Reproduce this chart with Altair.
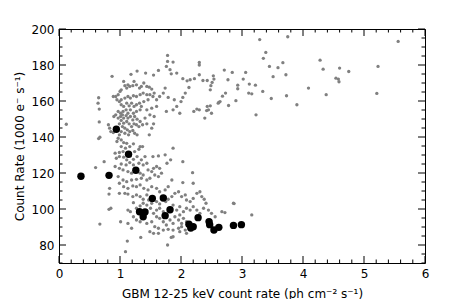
import altair as alt
import pandas as pd

# Black (highlighted) points
bx = [0.36, 0.82, 0.94, 1.14, 1.26, 1.53, 1.71, 1.32, 1.41, 1.38, 1.74, 1.82, 2.28, 2.13, 2.16, 2.20,
      2.46, 2.47, 2.54, 2.62, 2.86, 2.99]
by = [118.2, 118.7, 144.3, 130.4, 121.5, 105.9, 106.1, 98.5, 98.3, 95.7, 96.3, 99.6, 95.2, 91.5, 89.4, 90.2,
      93.0, 91.3, 88.3, 89.8, 90.9, 91.3]

# Gray points (x, y pairs)
gray_pts = [
    (0.12, 147.1), (3.29, 194.1), (3.75, 195.7), (5.56, 193.1), (3.39, 187.0), (3.35, 183.7), (3.45, 179.2),
    (3.51, 173.5), (3.59, 178.5), (3.67, 181.3), (3.72, 174.6), (4.28, 182.7), (4.33, 177.7), (4.60, 178.3),
    (4.75, 176.4), (4.54, 172.7), (4.58, 172.2), (4.59, 170.7), (5.23, 179.2), (5.21, 164.2), (4.09, 167.2),
    (4.38, 163.5), (3.90, 157.9), (3.73, 162.9), (3.48, 161.4), (3.34, 165.3), (3.23, 152.3), (3.22, 168.8),
    (3.12, 169.4), (3.11, 164.4), (3.16, 164.0), (3.06, 175.9), (3.02, 172.2), (2.93, 168.8), (2.90, 160.2),
    (2.93, 166.8), (2.84, 175.9), (2.77, 171.8), (2.71, 177.2), (2.78, 157.5), (2.73, 164.4), (2.64, 159.7),
    (2.68, 162.7), (2.53, 174.0), (2.54, 172.2), (2.51, 170.3), (2.49, 168.5), (2.48, 166.2), (2.43, 171.4),
    (2.36, 171.4), (2.30, 174.6), (2.30, 180.0), (2.30, 181.4), (2.22, 172.4), (2.15, 171.8), (2.13, 167.5),
    (2.10, 171.2), (2.03, 172.4), (1.93, 175.5), (1.87, 181.6), (1.78, 182.0), (1.78, 185.3), (1.76, 179.2),
    (1.82, 177.4), (1.84, 175.1), (1.63, 177.0), (1.55, 174.4), (1.42, 175.5), (1.28, 176.6), (1.18, 174.8),
    (0.87, 173.7), (2.39, 150.5), (2.30, 155.1), (2.21, 154.2), (2.26, 155.5), (2.43, 157.0), (2.45, 155.1),
    (2.48, 157.3), (2.42, 154.7), (2.50, 153.2), (2.61, 158.8), (2.62, 159.2), (1.98, 153.2), (2.00, 159.7),
    (2.03, 162.0), (2.07, 164.4), (1.89, 160.7), (1.87, 155.1), (1.93, 157.0), (1.76, 154.2), (1.79, 162.0),
    (1.71, 164.4), (1.74, 167.2), (1.65, 162.5), (1.60, 160.7), (1.56, 151.4), (1.52, 156.0), (1.60, 157.0),
    (1.46, 160.7), (1.49, 152.3), (1.41, 150.5), (1.44, 155.1), (1.44, 147.3),
    (0.65, 161.8), (0.64, 158.8), (0.66, 155.5), (0.66, 148.4), (0.65, 139.1), (0.67, 139.9),
    (0.81, 146.8), (0.83, 144.9), (0.89, 142.5), (0.85, 143.0), (0.90, 151.4), (0.93, 152.3), (0.89, 162.5),
    (0.93, 162.5), (0.97, 163.5), (1.00, 165.3), (1.02, 166.2), (1.06, 170.9), (1.08, 168.5), (1.11, 167.2),
    (1.13, 169.0), (1.16, 168.1), (1.21, 168.5), (1.23, 170.9), (1.27, 169.0), (1.32, 167.2), (1.35, 168.1),
    (1.39, 170.0), (1.44, 168.1), (1.48, 167.7), (1.52, 166.6), (1.56, 164.4), (1.54, 162.5), (1.49, 163.5),
    (1.44, 163.5), (1.38, 164.4), (1.33, 163.5), (1.27, 162.5), (1.22, 162.9), (1.17, 161.6), (1.13, 162.5),
    (1.08, 161.6), (1.02, 160.7), (0.99, 159.7), (0.95, 160.7), (1.02, 157.9), (1.06, 157.0), (1.11, 158.8),
    (1.15, 157.3), (1.19, 158.8), (1.23, 157.0), (1.27, 157.9), (1.32, 158.8), (1.35, 157.0), (1.39, 159.7),
    (1.33, 155.1), (1.27, 154.2), (1.22, 153.2), (1.17, 155.1), (1.13, 153.2), (1.10, 155.1), (1.05, 154.2),
    (1.01, 153.2), (0.97, 154.2), (0.97, 150.5), (1.01, 151.4), (1.04, 152.3), (1.06, 150.5), (1.10, 151.9),
    (1.13, 150.5), (1.17, 151.4), (1.21, 149.5), (1.24, 151.4), (1.28, 149.9), (1.33, 148.6), (1.37, 146.8),
    (1.31, 145.8), (1.27, 146.8), (1.23, 147.3), (1.19, 145.8), (1.15, 147.3), (1.11, 148.6), (1.06, 147.7),
    (1.02, 149.2), (0.99, 147.3), (1.04, 145.8), (1.08, 144.9), (1.12, 144.0), (1.16, 143.0), (1.21, 143.6),
    (1.24, 142.1), (1.28, 141.2), (1.14, 141.2), (1.08, 142.1), (1.02, 143.0), (0.99, 141.2), (0.97, 139.3),
    (1.02, 138.4), (0.95, 137.5), (1.06, 136.9), (1.11, 136.5), (1.02, 134.7), (1.09, 133.8), (1.16, 134.7),
    (1.22, 136.2), (1.33, 134.7), (1.31, 133.2), (1.24, 131.9), (1.05, 131.9), (0.99, 131.4), (0.92, 131.0),
    (0.94, 128.2), (0.99, 129.1), (1.06, 128.8), (1.11, 127.3), (1.17, 129.5), (1.22, 127.6), (1.28, 129.1),
    (1.35, 127.3), (1.41, 129.1), (1.44, 125.4), (1.38, 124.5), (1.31, 125.4), (1.22, 124.5), (1.16, 125.8),
    (1.10, 124.5), (1.02, 125.0), (0.99, 122.6), (1.05, 121.7), (1.13, 120.8), (1.19, 119.9), (1.33, 119.9),
    (1.38, 118.9), (1.46, 121.7), (1.52, 120.8), (1.55, 122.6), (1.60, 123.6), (1.65, 122.6), (1.68, 119.9),
    (1.63, 118.0), (1.57, 118.9), (1.49, 117.1), (1.44, 116.1), (1.35, 117.1), (1.27, 116.5), (1.19, 116.1),
    (1.11, 115.2), (1.05, 116.1), (0.99, 114.3), (1.06, 112.4), (1.13, 111.5), (1.21, 112.8), (1.27, 112.4),
    (1.33, 113.4), (1.39, 111.5), (1.46, 110.6), (1.52, 112.4), (1.60, 111.5), (1.65, 109.6), (1.74, 110.6),
    (1.79, 112.4), (1.85, 116.1), (1.87, 133.8), (1.83, 127.3), (1.77, 125.4), (2.03, 126.3), (2.03, 114.7),
    (2.19, 120.2), (2.20, 114.3), (0.99, 108.7), (1.08, 108.7), (1.13, 108.3), (1.21, 106.9), (1.27, 107.8),
    (1.33, 106.9), (1.38, 105.4), (1.44, 107.8), (1.47, 105.0), (1.52, 103.2), (1.60, 104.1), (1.65, 102.8),
    (1.75, 104.1), (1.79, 105.4), (1.85, 106.9), (1.90, 108.7), (1.96, 109.6), (2.01, 106.9), (2.07, 107.8),
    (2.09, 105.0), (2.15, 104.1), (2.20, 105.9), (2.26, 108.7), (2.31, 109.6), (2.34, 106.9), (2.38, 105.4),
    (2.41, 103.2), (2.37, 100.4), (2.45, 99.4), (2.50, 97.6), (2.56, 95.7), (2.67, 98.5), (2.72, 98.0),
    (2.86, 103.2), (3.16, 96.7), (2.31, 97.6), (2.26, 99.4), (2.20, 101.3), (2.15, 99.4), (2.09, 100.4),
    (2.04, 98.5), (1.98, 101.3), (1.93, 99.4), (1.87, 102.2), (1.98, 96.7), (2.04, 94.8), (2.09, 92.9),
    (2.01, 92.0), (1.96, 93.9), (1.90, 95.7), (1.87, 92.0), (1.82, 93.9), (1.76, 91.1), (1.71, 92.9),
    (1.65, 94.8), (1.60, 95.7), (1.55, 97.6), (1.60, 99.4), (1.65, 100.4), (1.71, 98.5), (1.50, 100.4),
    (1.44, 102.2), (1.38, 103.2), (1.33, 101.7), (1.27, 100.4), (1.22, 103.5), (1.17, 98.5), (1.13, 99.4),
    (1.22, 95.7), (1.27, 93.9), (1.33, 92.9), (1.44, 92.0), (1.52, 92.9), (1.57, 90.2), (1.63, 89.3),
    (1.71, 88.3), (1.79, 88.7), (1.87, 88.3), (1.96, 89.3), (2.01, 90.2), (2.07, 88.3), (1.98, 87.4),
    (1.49, 87.4), (1.55, 86.5), (1.63, 86.5), (1.19, 89.3), (1.13, 92.0), (1.01, 92.9), (0.82, 99.8),
    (0.85, 100.4), (0.67, 91.6), (1.34, 84.2), (1.12, 82.2), (1.09, 76.3), (1.78, 80.0), (1.84, 84.2),
    (1.87, 84.6), (2.09, 86.5), (2.87, 103.0), (0.74, 126.3), (0.60, 123.0), (0.83, 111.5), (0.82, 108.3),
    (0.97, 118.0), (0.92, 123.6), (1.63, 129.5), (1.74, 130.1), (1.54, 129.1), (1.37, 134.7),
    (1.55, 147.3), (1.52, 144.9), (1.48, 141.2),
]
gx = [p[0] for p in gray_pts]
gy = [p[1] for p in gray_pts]

# Tick values
x_major = [0, 1, 2, 3, 4, 5, 6]
x_minor = [round(i * 0.2, 1) for i in range(31) if i % 5 != 0]
y_major = [80, 100, 120, 140, 160, 180, 200]
y_minor = [v for v in range(70, 201, 5) if v % 20 != 0]

W, H = 366, 234
MAJ, MIN = 7, 3.5

gray_df = pd.DataFrame({"x": gx, "y": gy})
black_df = pd.DataFrame({"x": bx, "y": by})

font = "DejaVu Sans"
x_scale = alt.Scale(domain=[0, 6], nice=False, zero=False)
y_scale = alt.Scale(domain=[70, 200], nice=False, zero=False)

x_axis = alt.Axis(
    values=x_major, grid=False, domain=False, ticks=False, format="d",
    labelColor="black", labelFont=font, labelFontSize=12, labelPadding=5,
    labelOverlap=False, labelFlush=False,
    title="GBM 12-25 keV count rate (ph cm\u207b\u00b2 s\u207b\u00b9)",
    titleFont=font, titleFontSize=12, titleFontWeight="normal", titleColor="black",
    titleY=34, titleBaseline="alphabetic",
)
y_axis = alt.Axis(
    values=y_major, grid=False, domain=False, ticks=False, format="d",
    labelColor="black", labelFont=font, labelFontSize=12, labelPadding=5,
    labelOverlap=False, labelFlush=False,
    title="Count Rate (1000 e\u207b s\u207b\u00b9)",
    titleFont=font, titleFontSize=12, titleFontWeight="normal", titleColor="black",
    titleX=-36, titleBaseline="alphabetic",
)

gray = alt.Chart(gray_df).mark_circle(size=11, color="#808080", opacity=1).encode(
    x=alt.X("x:Q", scale=x_scale, axis=x_axis),
    y=alt.Y("y:Q", scale=y_scale, axis=y_axis),
)
black = alt.Chart(black_df).mark_circle(size=55, color="black", opacity=1).encode(
    x=alt.X("x:Q", scale=x_scale, axis=None),
    y=alt.Y("y:Q", scale=y_scale, axis=None),
)


def xticks(vals, length):
    d = pd.DataFrame({"v": vals})
    base = alt.Chart(d).mark_rule(color="black", strokeWidth=1)
    bottom = base.encode(x=alt.X("v:Q", scale=x_scale, axis=None), y=alt.value(H), y2=alt.value(H - length))
    top = base.encode(x=alt.X("v:Q", scale=x_scale, axis=None), y=alt.value(0), y2=alt.value(length))
    return [bottom, top]


def yticks(vals, length):
    d = pd.DataFrame({"v": vals})
    base = alt.Chart(d).mark_rule(color="black", strokeWidth=1)
    left = base.encode(y=alt.Y("v:Q", scale=y_scale, axis=None), x=alt.value(0), x2=alt.value(length))
    right = base.encode(y=alt.Y("v:Q", scale=y_scale, axis=None), x=alt.value(W), x2=alt.value(W - length))
    return [left, right]


tick_layers = xticks(x_major, MAJ) + xticks(x_minor, MIN) + yticks(y_major, MAJ) + yticks(y_minor, MIN)

chart = alt.layer(gray, black, *tick_layers).resolve_axis(
    x="independent", y="independent"
).properties(
    width=W, height=H,
    autosize=alt.AutoSizeParams(type="none"),
    padding={"left": 51, "top": 21, "right": 38, "bottom": 36},
).configure_view(stroke="black", strokeWidth=1)

chart.save("out.html", embed_options={"renderer": "svg", "actions": False})
